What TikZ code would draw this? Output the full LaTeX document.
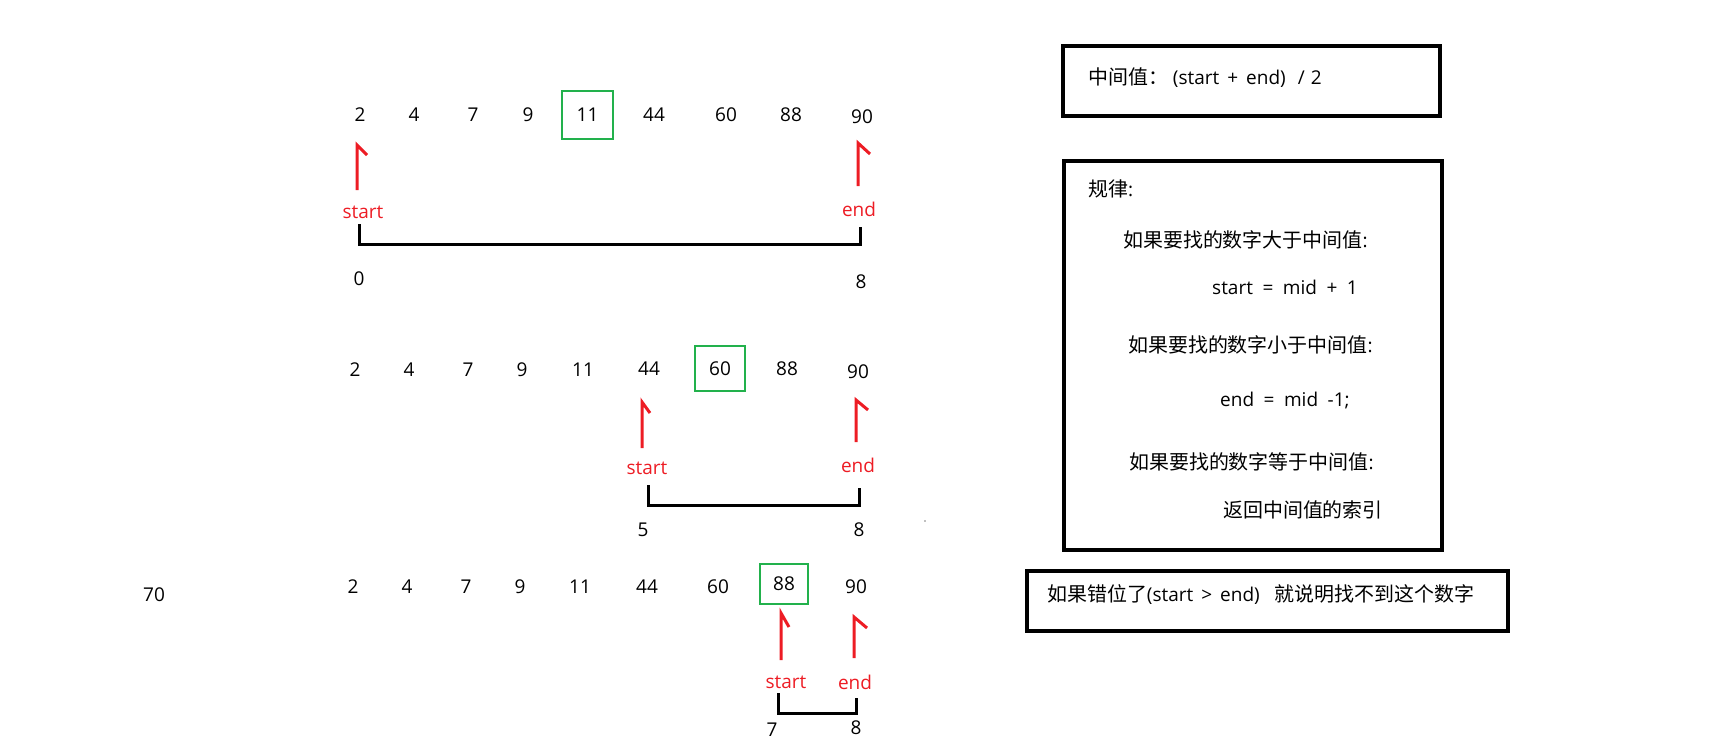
\documentclass[tikz,border=0pt]{standalone}
\usepackage{fontspec}
\setmainfont{Open Sans}
\newfontfamily\cjk[Scale=1.05]{Noto Sans CJK SC}
\definecolor{pred}{HTML}{ED1C24}
\definecolor{pgreen}{HTML}{22B14C}
\newcommand{\gp}{\hspace{9.5pt}}
\begin{document}
\begin{tikzpicture}[x=1pt,y=-1pt,
  txt/.style={font=\fontsize{19}{22}\selectfont, inner sep=0pt, text height=13.5pt, text depth=0pt},
  num/.style={txt},
  lbl/.style={txt, text=pred},
  hl/.style={draw=pgreen, line width=2.5pt},
  ptr/.style={draw=pred, line width=3pt},
  brk/.style={draw=black, line width=3pt},
  panel/.style={draw=black, line width=3.5pt, inner sep=0pt}]
\useasboundingbox (0,0) rectangle (1720,741);

% ---------- row 1 ----------
\node[num] (a0) at (360,115) {2};
\node[num] (a1) at (414,115) {4};
\node[num] (a2) at (473,115) {7};
\node[num] (a3) at (528,115) {9};
\node[num,hl,minimum width=51pt,minimum height=48pt] (a4) at (587.5,115) {11};
\node[num] (a5) at (654,115) {44};
\node[num] (a6) at (726,115) {60};
\node[num] (a7) at (791,115) {88};
\node[num] (a8) at (862,117) {90};

\node[lbl] (s1) at (363,212) {start};
\node[lbl] (e1) at (859,210) {end};
\draw[ptr] (357,190) -- (357,145) -- (367,155);
\draw[ptr] (858,186) -- (858,143) -- (870,154);
\draw[brk] (359,224) -- (359,244) -- (860,244) -- (860,227);
\node[num] (i1a) at (359,279) {0};
\node[num] (i1b) at (861,282) {8};

% ---------- row 2 ----------
\node[num] (b0) at (355,370) {2};
\node[num] (b1) at (409,370) {4};
\node[num] (b2) at (468,370) {7};
\node[num] (b3) at (522,370) {9};
\node[num] (b4) at (583,370) {11};
\node[num] (b5) at (649,369) {44};
\node[num,hl,minimum width=50pt,minimum height=45pt] (b6) at (720,368.5) {60};
\node[num] (b7) at (787,369) {88};
\node[num] (b8) at (858,372) {90};

\node[lbl] (s2) at (647,468) {start};
\node[lbl] (e2) at (858,466) {end};
\draw[ptr] (642,448) -- (642,402) -- (650,413);
\draw[ptr] (856,442) -- (856,400) -- (868,410);
\draw[brk] (648,485) -- (648,505) -- (859,505) -- (859,488);
\node[num] (i2a) at (643,530) {5};
\node[num] (i2b) at (859,530) {8};

% ---------- row 3 ----------
\node[num] (x70) at (154,595) {70};
\node[num] (c0) at (353,587) {2};
\node[num] (c1) at (407,587) {4};
\node[num] (c2) at (466,587) {7};
\node[num] (c3) at (520,587) {9};
\node[num] (c4) at (580,587) {11};
\node[num] (c5) at (647,587) {44};
\node[num] (c6) at (718,587) {60};
\node[num,hl,minimum width=48pt,minimum height=40pt] (c7) at (784,584) {88};
\node[num] (c8) at (856,587) {90};

\node[lbl] (s3) at (786,682) {start};
\node[lbl] (e3) at (855,683) {end};
\draw[ptr] (781,660) -- (781,613) -- (789,627);
\draw[ptr] (854,658) -- (854,617) -- (867,628);
\draw[brk] (778,693) -- (778,713) -- (856,713) -- (856,698);
\node[num] (i3a) at (772,730) {7};
\node[num] (i3b) at (856,728) {8};

\fill[gray] (925,521) circle (0.8);

% ---------- panels ----------
\node[panel, minimum width=377pt, minimum height=70pt] (p1) at (1251.5,81) {};
\node[txt, anchor=west] (t1) at (1088,78) {{\cjk 中间值：}\ (start\hspace{8pt}+\hspace{8pt}end)\hspace{12pt}/\hspace{6pt}2};

\node[panel, minimum width=378pt, minimum height=389pt] (p2) at (1253,355.5) {};
\node[txt, anchor=west] (r0) at (1088,190) {{\cjk 规律}:};
\node[txt, anchor=west] (r1) at (1123,241) {{\cjk 如果要找的数字大于中间值}:};
\node[txt, anchor=west] (r2) at (1212,288) {start\gp=\gp mid\gp+\gp1};
\node[txt, anchor=west] (r3) at (1128,346) {{\cjk 如果要找的数字小于中间值}:};
\node[txt, anchor=west] (r4) at (1220,400) {end\gp=\gp mid\gp-1;};
\node[txt, anchor=west] (r5) at (1129,463) {{\cjk 如果要找的数字等于中间值}:};
\node[txt, anchor=west] (r6) at (1223,511) {{\cjk 返回中间值的索引}};

\node[panel, minimum width=481pt, minimum height=60pt] (p3) at (1267.5,601) {};
\node[txt, anchor=west] (t3) at (1047,595) {{\cjk 如果错位了}(start\hspace{8pt}>\hspace{8pt}end)\hspace{15pt}{\cjk 就说明找不到这个数字}};
\end{tikzpicture}
\end{document}
